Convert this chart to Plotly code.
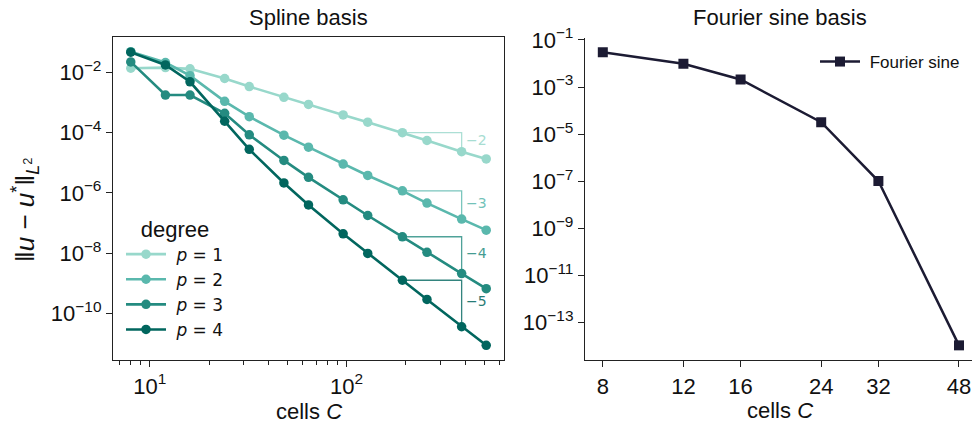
import numpy as np
import plotly.graph_objects as go

W, H = 972, 432

# ---------------- data ----------------
cells = [8, 12, 16, 24, 32, 48, 64, 96, 128, 192, 256, 384, 512]
err_p1 = [1.38e-2, 1.45e-2, 1.32e-2, 6.3e-3, 3.4e-3, 1.5e-3, 8.7e-4, 3.9e-4, 2.24e-4, 1.0e-4, 5.5e-5, 2.34e-5, 1.35e-5]
err_p2 = [4.9e-2, 2.14e-2, 7.8e-3, 1.10e-3, 3.4e-4, 8.3e-5, 3.3e-5, 9.1e-6, 3.8e-6, 1.17e-6, 4.6e-7, 1.35e-7, 5.8e-8]
err_p3 = [2.24e-2, 1.78e-3, 1.78e-3, 4.4e-4, 8.5e-5, 1.20e-5, 3.3e-6, 5.9e-7, 1.78e-7, 3.5e-8, 1.07e-8, 2.1e-9, 6.6e-10]
err_p4 = [4.7e-2, 1.78e-2, 4.9e-3, 2.4e-4, 2.8e-5, 2.14e-6, 4.0e-7, 4.4e-8, 9.8e-9, 1.26e-9, 2.9e-10, 3.6e-11, 8.7e-12]
degrees = [1, 2, 3, 4]
slopes = [-2, -3, -4, -5]
colors = ["#98d8cb", "#5ab8ad", "#248b80", "#01665e"]

fourier_cells = [8, 12, 16, 24, 32, 48]
fourier_err = [3.0e-2, 9.8e-3, 2.1e-3, 3.2e-5, 1.02e-7, 1.07e-14]
fourier_color = "#1c1b33"

left_ytick_exp = [-2, -4, -6, -8, -10]
right_ytick_exp = [-1, -3, -5, -7, -9, -11, -13]
right_xticks = [8, 12, 16, 24, 32, 48]
left_xtick_exp = [1, 2]

slope_from, slope_to = 192, 384

FONT = "Liberation Sans, Arial, sans-serif"
MATH = "DejaVu Sans, sans-serif"
NB = "\u00a0"

fig = go.Figure()

errs = [err_p1, err_p2, err_p3, err_p4]
for p, e, c in zip(degrees, errs, colors):
    fig.add_trace(go.Scatter(
        x=cells, y=e, mode="lines+markers", name=f"{NB}<i>p</i> = {p}",
        line=dict(color=c, width=2.6), marker=dict(color=c, size=9.5),
        xaxis="x", yaxis="y", legend="legend"))

# slope triangles
i0, i1 = cells.index(slope_from), cells.index(slope_to)
for s, e, c in zip(slopes, errs, colors):
    x0, x1 = cells[i0], cells[i1]
    y0 = e[i0]
    y1 = y0 * (x1 / x0) ** s
    fig.add_trace(go.Scatter(
        x=[x0, x1, x1], y=[y0, y0, y1], mode="lines",
        line=dict(color=c, width=1.3), opacity=0.8, showlegend=False,
        hoverinfo="skip", xaxis="x", yaxis="y"))
    fig.add_trace(go.Scatter(
        x=[x1], y=[np.sqrt(y0 * y1)], mode="text", text=[f" \u2212{-s}"],
        textposition="middle right", opacity=0.85,
        textfont=dict(color=c, size=14, family=MATH), showlegend=False,
        hoverinfo="skip", xaxis="x", yaxis="y"))

fig.add_trace(go.Scatter(
    x=fourier_cells, y=fourier_err, mode="lines+markers",
    name=f"{NB}Fourier sine",
    line=dict(color=fourier_color, width=2.5),
    marker=dict(color=fourier_color, size=10, symbol="square"),
    xaxis="x2", yaxis="y2", legend="legend2"))


def log_range(vals, margin=0.05):
    lv = np.log10(np.asarray(vals, dtype=float))
    lo, hi = lv.min(), lv.max()
    span = hi - lo
    return [lo - margin * span, hi + margin * span]


all_left = np.concatenate([np.asarray(e) for e in errs])
lx = log_range(cells)
ly = log_range(all_left)
rx = log_range(fourier_cells)
# right axes is clipped by the figure edge
rx = [rx[0], rx[0] + (rx[1] - rx[0]) * 387.0 / 391.8]
ry = log_range(fourier_err)

minor_left = [m * 10 ** d for d in range(0, 3) for m in range(2, 10)]

axis_common = dict(
    type="log", showgrid=False, zeroline=False, showline=True, automargin=False,
    linecolor="#222", linewidth=1.3, ticks="outside", ticklen=6,
    tickwidth=1.3, tickcolor="#222",
    tickfont=dict(family=FONT, size=22, color="#111"))

y0d = (H - 360) / H
y1d = (H - 37) / H

fig.update_layout(
    template="none",
    width=W, height=H, margin=dict(l=0, r=0, t=0, b=0, autoexpand=False),
    paper_bgcolor="white", plot_bgcolor="white",
    font=dict(family=FONT, color="#111"),
    xaxis=dict(axis_common, domain=[113 / W, 504 / W], range=lx, mirror=True,
               tickmode="array", tickvals=[10 ** k for k in left_xtick_exp],
               ticktext=[f"10<sup>{k}</sup>" for k in left_xtick_exp],
               minor=dict(ticks="outside", ticklen=3.5, tickwidth=1.1,
                          tickcolor="#222", tickmode="array",
                          tickvals=minor_left, showgrid=False),
               anchor="y"),
    yaxis=dict(axis_common, domain=[y0d, y1d], range=ly, mirror=True,
               tickmode="array", tickvals=[10.0 ** k for k in left_ytick_exp],
               ticktext=[f"10<sup>\u2212{-k}</sup>" for k in left_ytick_exp],
               anchor="x"),
    xaxis2=dict(axis_common, domain=[585 / W, 1.0], range=rx, mirror=False,
                tickmode="array", tickvals=right_xticks,
                ticktext=[str(v) for v in right_xticks], anchor="y2"),
    yaxis2=dict(axis_common, domain=[y0d, (H - 37.6) / H], range=ry, mirror=False,
                tickmode="array", tickvals=[10.0 ** k for k in right_ytick_exp],
                ticktext=[f"10<sup>\u2212{-k}</sup>" for k in right_ytick_exp],
                anchor="x2"),
    legend=dict(x=121 / W, y=(H - 208) / H, xanchor="left", yanchor="top",
                bgcolor="rgba(0,0,0,0)", font=dict(family=MATH, size=17),
                title=dict(text="degree", font=dict(family=FONT, size=22),
                           side="top center"),
                itemwidth=40, tracegroupgap=0),
    legend2=dict(x=815 / W, y=(H - 44) / H, xanchor="left", yanchor="top",
                 bgcolor="rgba(0,0,0,0)", font=dict(family=FONT, size=17),
                 itemwidth=40),
    showlegend=True,
)

ann = [
    dict(text="Spline basis", x=308.5 / W, y=(H - 17) / H),
    dict(text="Fourier sine basis", x=780 / W, y=(H - 17) / H),
    dict(text="cells <i>C</i>", x=308.5 / W, y=(H - 411) / H),
    dict(text="cells <i>C</i>", x=780 / W, y=(H - 410) / H),
]
for a in ann:
    fig.add_annotation(xref="paper", yref="paper", showarrow=False,
                       xanchor="center", yanchor="middle",
                       font=dict(family=FONT, size=22, color="#111"), **a)

fig.add_annotation(
    xref="paper", yref="paper", x=25 / W, y=(H - 210) / H, showarrow=False,
    textangle=-90, xanchor="center", yanchor="middle",
    text="\u2016<i>u</i> \u2212 <i>u</i><sup>*</sup>\u2016<sub><i>L</i><sup>2</sup></sub>",
    font=dict(family=FONT, size=26, color="#111"))

fig.write_html("out.html")
